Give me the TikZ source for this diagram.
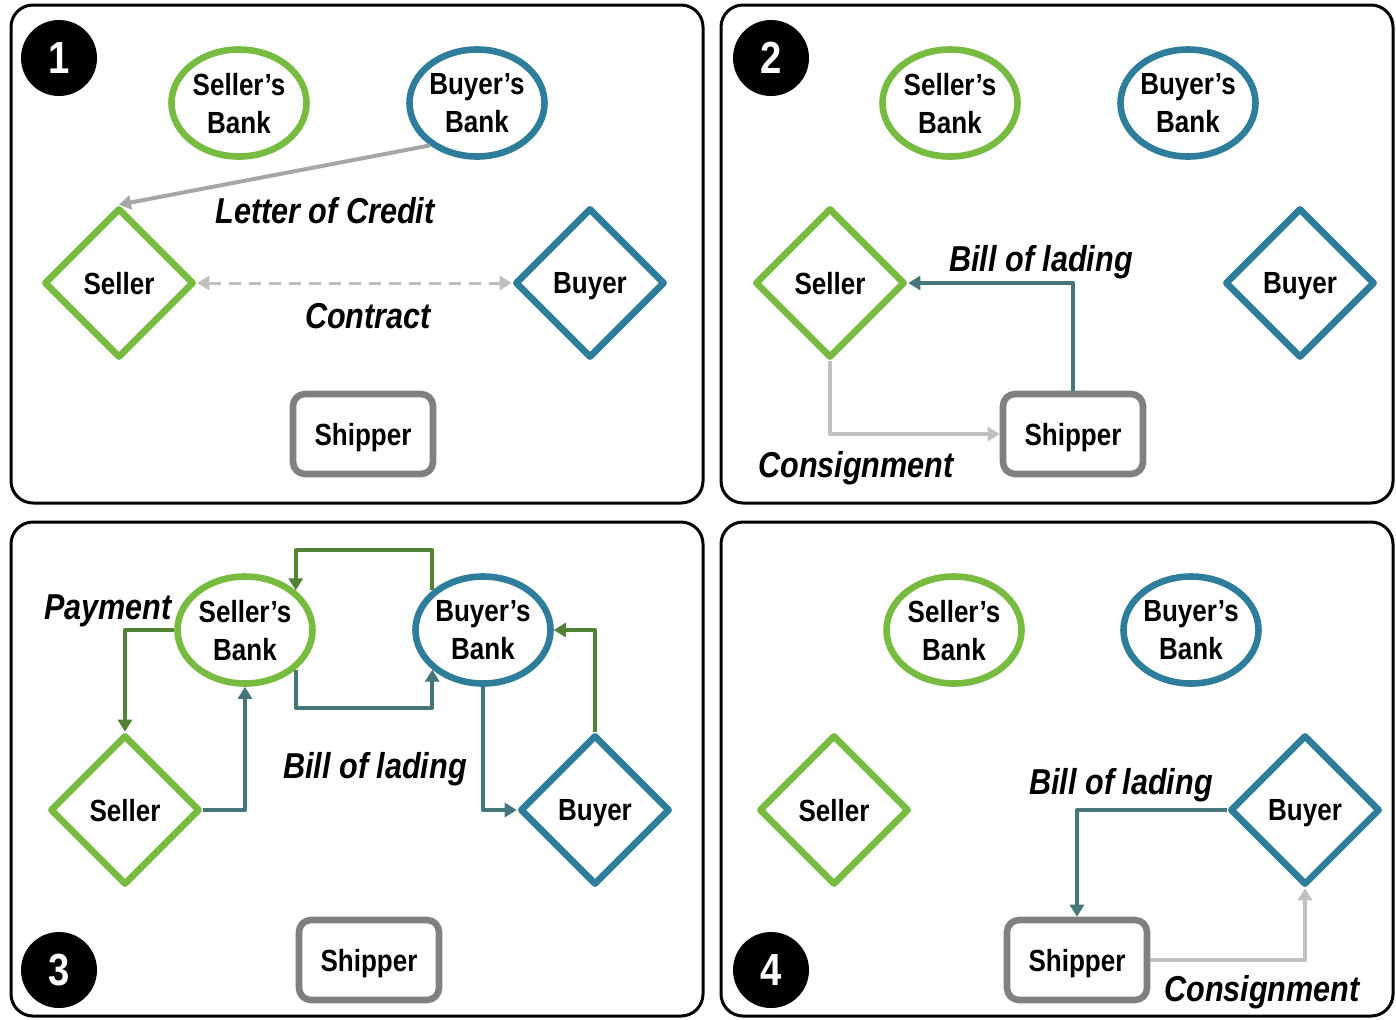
\documentclass[tikz,border=0pt]{standalone}
\usepackage{fontspec}
\setmainfont{Liberation Sans}[FakeStretch=0.85]
\usetikzlibrary{shapes.geometric,arrows.meta}
\definecolor{sgreen}{HTML}{77BB41}
\definecolor{bblue}{HTML}{2E7E9B}
\definecolor{shipgray}{HTML}{808080}
\definecolor{ladteal}{HTML}{44767A}
\definecolor{paygreen}{HTML}{548235}
\definecolor{creditgray}{HTML}{A6A6A6}
\definecolor{consgray}{HTML}{C0C0C0}
\begin{document}
\begin{tikzpicture}[x=0.5pt,y=-0.5pt,line join=round,>={Triangle[length=6pt,width=7pt]},
	every node/.style={font=\fontsize{15.3}{19}\selectfont\bfseries,align=center,text depth=0pt},
	panel/.style={draw=black,line width=1.5pt,rounded corners=11pt},
	sbank/.style={ellipse,draw=sgreen,line width=3.3pt,minimum width=67.5pt,minimum height=53.5pt,inner sep=0pt},
	bbank/.style={sbank,draw=bblue},
	seller/.style={diamond,draw=sgreen,line width=3.3pt,minimum width=75pt,minimum height=75pt,inner sep=0pt},
	buyer/.style={seller,draw=bblue},
	shipper/.style={rectangle,rounded corners=6pt,draw=shipgray,line width=3.3pt,minimum width=70pt,minimum height=40pt},
	num/.style={circle,fill=black,text=white,minimum size=38pt,inner sep=0pt,font=\fontsize{22.5}{24}\selectfont\bfseries},
	lbl/.style={font=\fontsize{18}{20}\selectfont\bfseries\itshape},
	flow/.style={->,line width=2pt},
	lading/.style={flow,color=ladteal},
	pay/.style={flow,color=paygreen},
	consign/.style={flow,color=consgray},
	credit/.style={flow,color=creditgray},
	deal/.style={<->,line width=1.5pt,color=consgray,dash pattern=on 6pt off 4pt}]
	\useasboundingbox (0,0) rectangle (1396,1019);
	% the four frames
	\draw[panel] (11,5) rectangle (703,503);
	\draw[panel] (721,5) rectangle (1393,503);
	\draw[panel] (11,522) rectangle (703,1016);
	\draw[panel] (721,522) rectangle (1393,1016);
	% step 1
	\node[num] (n1) at (59,58) {1};
	\node[sbank] (sb1) at (239,103) {Seller’s\\Bank};
	\node[bbank] (bb1) at (477,103) {Buyer’s\\Bank};
	\node[seller] (sl1) at (119,283) {Seller};
	\node[buyer] (by1) at (590,283) {Buyer};
	\node[shipper] (sh1) at (363,434) {Shipper};
	\draw[credit] (bb1.222) -- (sl1.north);
	\draw[deal] (sl1.east) -- (by1.west);
	\node[lbl] (loc) at (325,210) {Letter of Credit};
	\node[lbl] (con) at (368,316) {Contract};
	% step 2
	\node[num] (n2) at (771,58) {2};
	\node[sbank] (sb2) at (950,103) {Seller’s\\Bank};
	\node[bbank] (bb2) at (1188,103) {Buyer’s\\Bank};
	\node[seller] (sl2) at (830,283) {Seller};
	\node[buyer] (by2) at (1300,283) {Buyer};
	\node[shipper] (sh2) at (1073,434) {Shipper};
	\draw[lading] (sh2.north) |- (sl2.east);
	\draw[consign] (sl2.south) |- (sh2.west);
	\node[lbl] (bol2) at (1041,258) {Bill of lading};
	\node[lbl] (cs2) at (856,464) {Consignment};
	% step 3
	\node[num] (n3) at (59,970) {3};
	\node[sbank] (sb3) at (245,630) {Seller’s\\Bank};
	\node[bbank] (bb3) at (483,630) {Buyer’s\\Bank};
	\node[seller] (sl3) at (125,810) {Seller};
	\node[buyer] (by3) at (595,810) {Buyer};
	\node[shipper] (sh3) at (369,960) {Shipper};
	\draw[pay] (sb3.west) -| (sl3.north);
	\draw[lading] (sl3.east) -| (sb3.south);
	\draw[lading] (sb3.-38) -- ++(0,38) -| (bb3.218);
	\draw[pay] (bb3.142) -- ++(0,-40) -| (sb3.38);
	\draw[lading] (bb3.south) |- (by3.west);
	\draw[pay] (by3.north) |- (bb3.east);
	\node[lbl] (pm3) at (108,607) {Payment};
	\node[lbl] (bol3) at (375,765) {Bill of lading};
	% step 4
	\node[num] (n4) at (771,970) {4};
	\node[sbank] (sb4) at (954,630) {Seller’s\\Bank};
	\node[bbank] (bb4) at (1191,630) {Buyer’s\\Bank};
	\node[seller] (sl4) at (834,810) {Seller};
	\node[buyer] (by4) at (1305,810) {Buyer};
	\node[shipper] (sh4) at (1077,960) {Shipper};
	\draw[lading] (by4.west) -| (sh4.north);
	\draw[consign] (sh4.east) -| (by4.south);
	\node[lbl] (bol4) at (1121,781) {Bill of lading};
	\node[lbl] (cs4) at (1262,988) {Consignment};
\end{tikzpicture}
\end{document}
